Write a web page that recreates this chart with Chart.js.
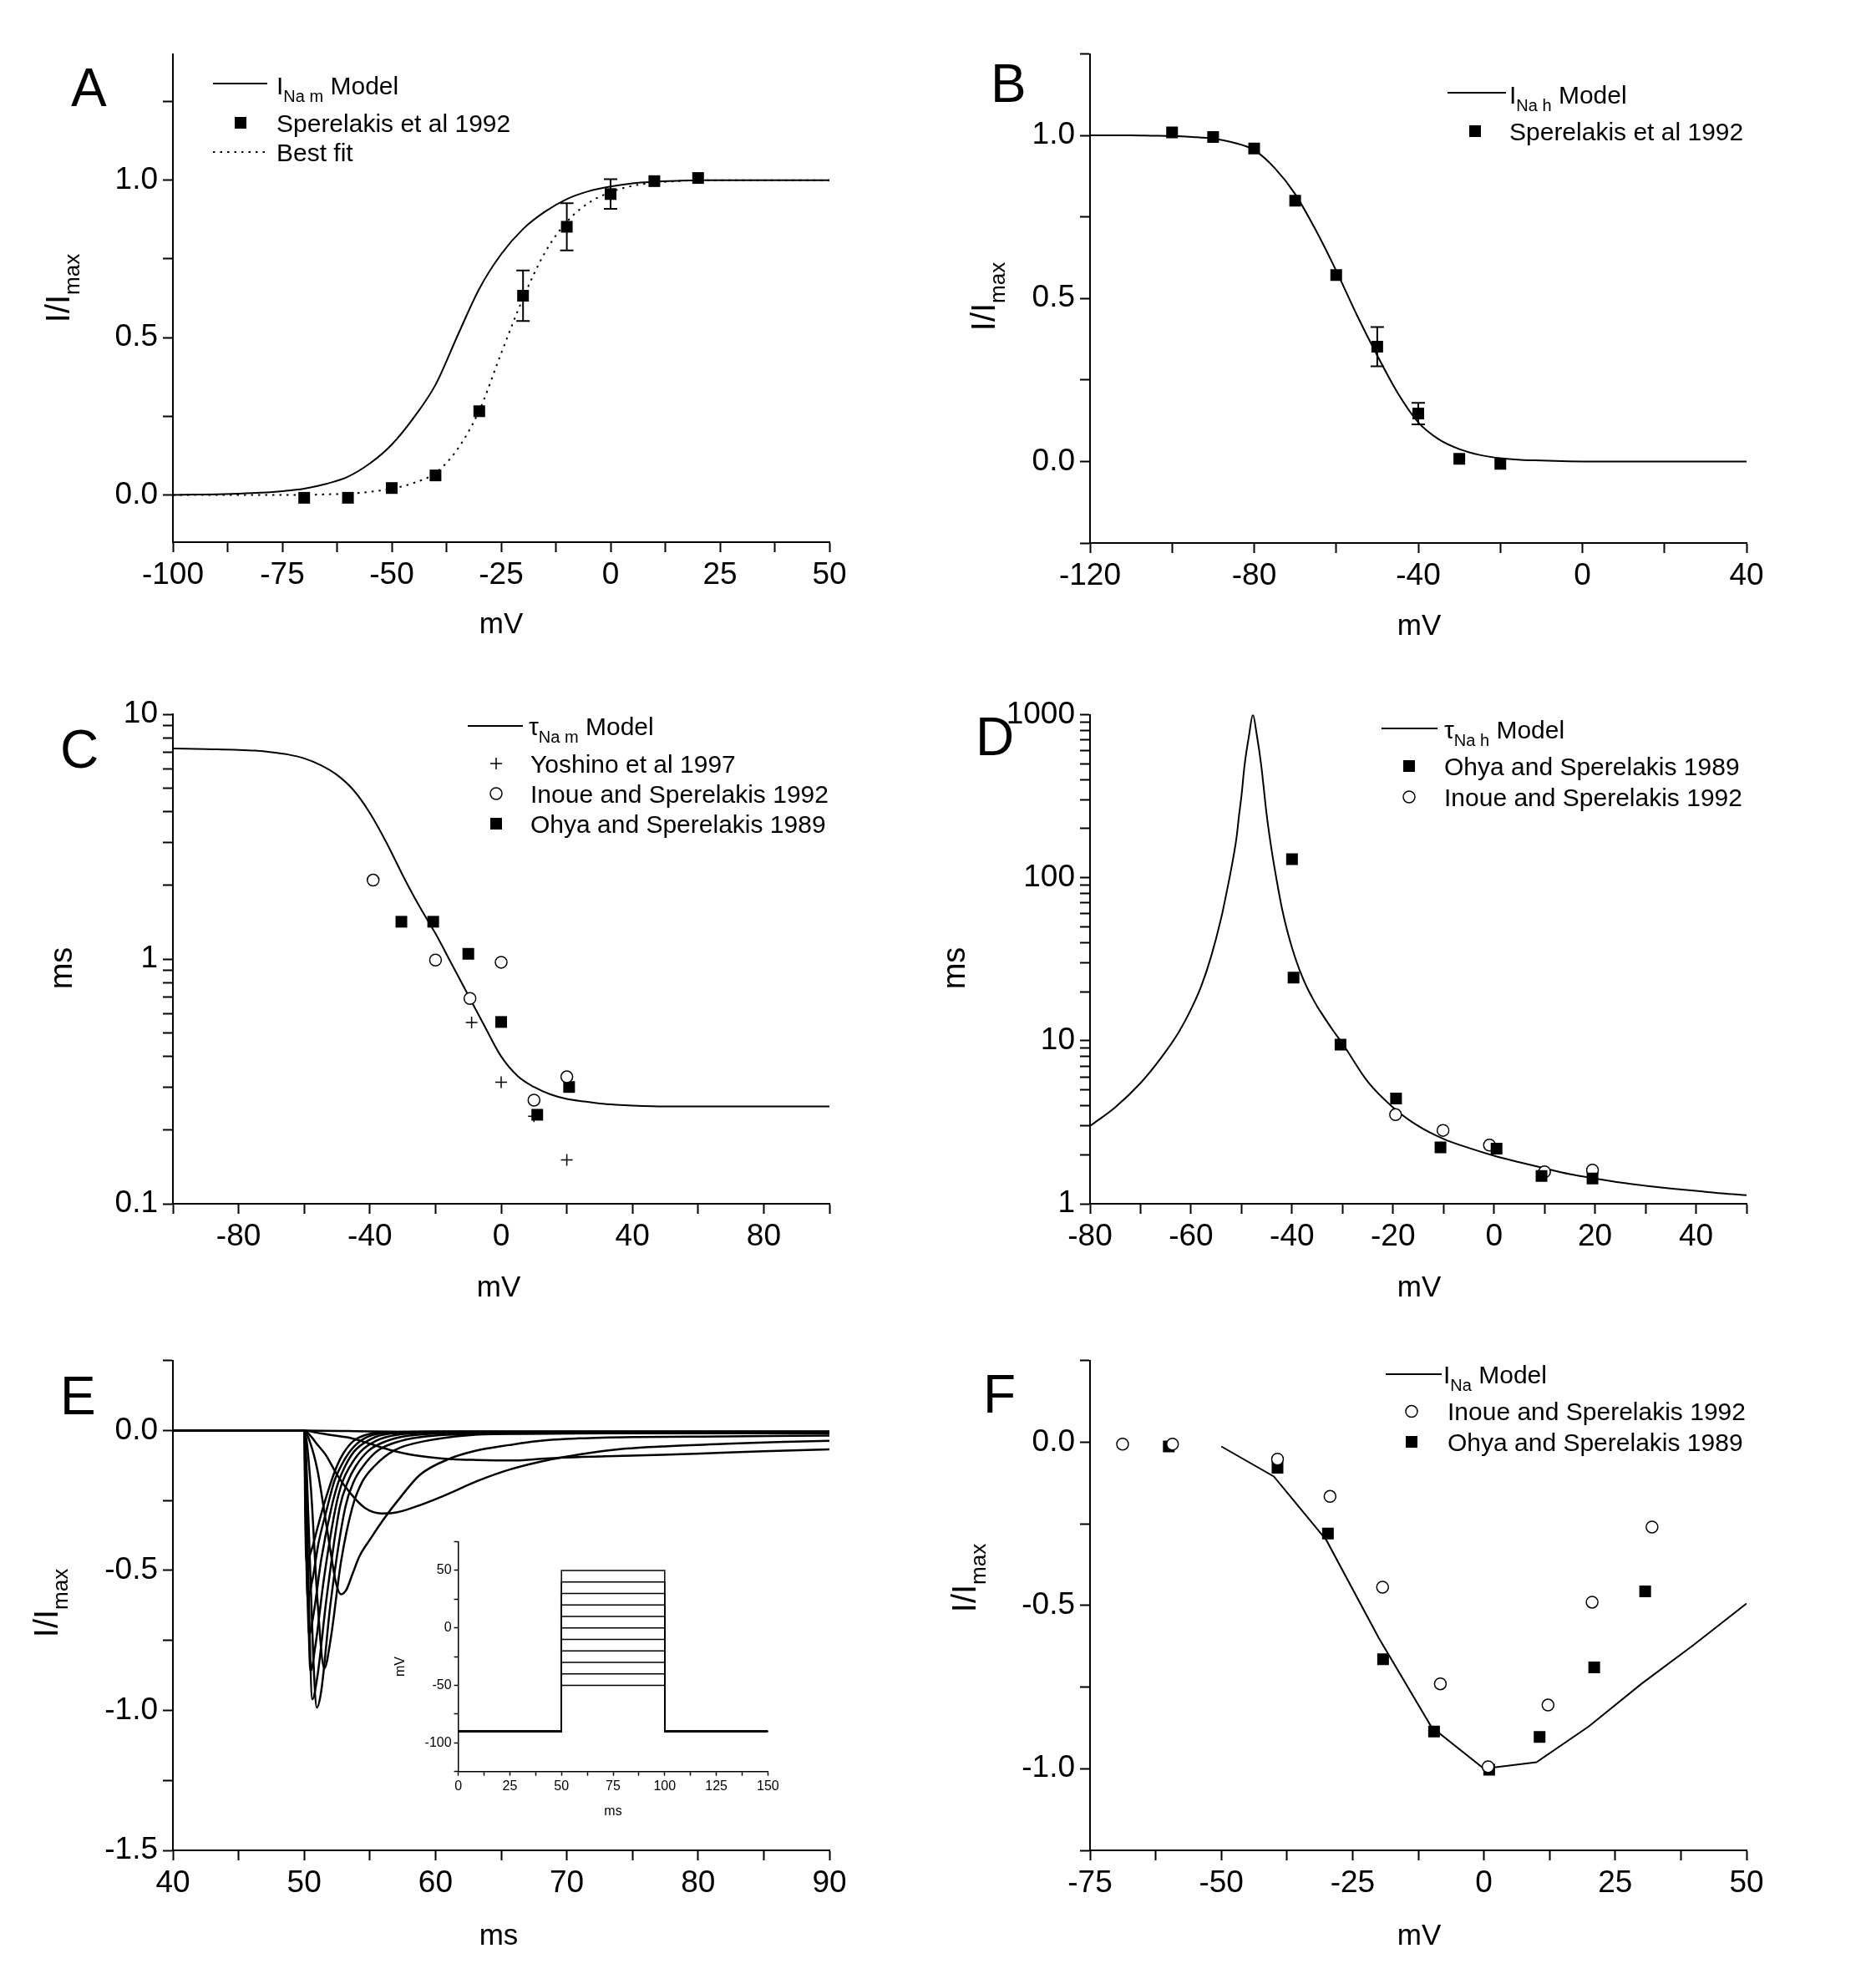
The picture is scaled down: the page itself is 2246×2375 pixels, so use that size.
<!DOCTYPE html>
<html><head><meta charset="utf-8">
<script src="https://cdn.jsdelivr.net/npm/chart.js@4.4.1/dist/chart.umd.min.js"></script>
<style>
html,body{margin:0;padding:0;background:#fff;}
#wrap{position:relative;width:2246px;height:2375px;background:#fff;overflow:hidden;}
canvas{position:absolute;}
</style></head><body><div id="wrap">
<canvas id="cA" width="1123" height="792" style="left:0px;top:0px;width:1123px;height:792px"></canvas>
<canvas id="cB" width="1123" height="792" style="left:1123px;top:0px;width:1123px;height:792px"></canvas>
<canvas id="cC" width="1123" height="792" style="left:0px;top:792px;width:1123px;height:792px"></canvas>
<canvas id="cD" width="1123" height="792" style="left:1123px;top:792px;width:1123px;height:792px"></canvas>
<canvas id="cE" width="1123" height="791" style="left:0px;top:1584px;width:1123px;height:791px"></canvas>
<canvas id="cF" width="1123" height="791" style="left:1123px;top:1584px;width:1123px;height:791px"></canvas>
<canvas id="cI" width="520" height="380" style="left:440px;top:1820px;width:520px;height:380px"></canvas>
</div>
<script>
// ---------------- DATA ----------------
// Panel A : I_Na m activation
const aModelV = [-100,-95,-90,-85,-80,-75,-70,-65,-60,-55,-50,-45,-40,-35,-30,-25,-20,-15,-10,-5,0,5,10,15,20,25,30,35,40,45,50];
const aModelI = [0.000,0.001,0.002,0.004,0.007,0.012,0.020,0.035,0.058,0.100,0.160,0.245,0.350,0.505,0.655,0.765,0.845,0.900,0.940,0.965,0.980,0.990,0.995,0.998,1.000,1,1,1,1,1,1];
const aFitV = [-100,-90,-80,-75,-70,-65,-60,-55,-50,-45,-40,-35,-30,-25,-20,-15,-10,-5,0,5,10,15,20,25,30,35,40,45,50];
const aFitI = [0,0,0,0,0,0.002,0.004,0.010,0.020,0.038,0.070,0.145,0.268,0.450,0.625,0.770,0.868,0.928,0.962,0.982,0.992,0.997,1.0,1,1,1,1,1,1];
const aDataV = [-70,-60,-50,-40,-30,-20,-10,0,10,20];
const aDataI = [-0.009,-0.009,0.022,0.062,0.266,0.633,0.852,0.956,0.997,1.007];
const aDataErr = [0,0,0,0,0,0.08,0.075,0.047,0,0];
const aXTicks = [-100,-87.5,-75,-62.5,-50,-37.5,-25,-12.5,0,12.5,25,37.5,50];
const aXLabels = [-100,-75,-50,-25,0,25,50];
const aYTicks = [0,0.25,0.5,0.75,1,1.25];
const aYLabels = [0,0.5,1];

// Panel B : I_Na h inactivation
const bModelV = [-120,-115,-110,-105,-100,-95,-90,-85,-80,-75,-70,-65,-60,-55,-50,-45,-40,-35,-30,-25,-20,-15,-10,-5,0,5,10,15,20,25,30,35,40];
const bModelI = [1.0,1.0,1.0,0.999,0.998,0.995,0.99,0.978,0.955,0.90,0.82,0.71,0.585,0.45,0.325,0.21,0.12,0.068,0.038,0.02,0.01,0.005,0.003,0.001,0,0,0,0,0,0,0,0,0];
const bDataV = [-100,-90,-80,-70,-60,-50,-40,-30,-20];
const bDataI = [1.009,0.995,0.96,0.80,0.572,0.352,0.147,0.008,-0.007];
const bDataErr = [0,0,0,0,0,0.06,0.033,0,0];
const bXTicks = [-120,-100,-80,-60,-40,-20,0,20,40];
const bXLabels = [-120,-80,-40,0,40];
const bYTicks = [-0.25,0,0.25,0.5,0.75,1,1.25];
const bYLabels = [0,0.5,1];

// Panel C : tau Na m
const cModelV = [-100,-90,-80,-75,-70,-65,-60,-55,-50,-45,-40,-35,-30,-25,-20,-15,-10,-5,0,5,10,15,20,25,30,35,40,50,60,70,80,90,100];
const cModelT = [7.25,7.2,7.15,7.1,7.0,6.85,6.6,6.2,5.65,4.9,3.95,3.0,2.2,1.65,1.27,0.95,0.71,0.53,0.40,0.333,0.30,0.28,0.268,0.262,0.257,0.254,0.252,0.25,0.25,0.25,0.25,0.25,0.25];
const cYoshinoV = [-9,0,10,20];
const cYoshinoT = [0.55,0.314,0.228,0.151];
const cInoueV = [-39,-20,-9.5,0,10,20];
const cInoueT = [2.10,0.99,0.69,0.97,0.265,0.33];
const cOhyaV = [-30.4,-20.7,-10,0,11,20.7];
const cOhyaT = [1.42,1.42,1.05,0.553,0.231,0.30];
const cXTicks = [-100,-80,-60,-40,-20,0,20,40,60,80,100];
const cXLabels = [-80,-40,0,40,80];
const cYTicks = [0.1,0.2,0.3,0.4,0.5,0.6,0.7,0.8,0.9,1,2,3,4,5,6,7,8,9,10];
const cYLabels = [0.1,1,10];

// Panel D : tau Na h
const dModelV = [-80,-75,-70,-66,-62.5,-60,-58,-56,-54,-53,-52,-51,-50.5,-50,-49.4,-48.5,-47.75,-47,-46.1,-45,-44,-43,-42,-41,-40,-39,-38,-37,-36,-35,-34,-32,-30,-25,-20,-15,-10,-5,0,5,10,15,20,25,30,35,40,45,50];
const dModelT = [3.0,3.91,5.5,7.8,11.2,15.6,21.5,33,57,80,115,175,240,320,489,750,1000,760,489,240,145,95,65,47.9,37.2,29.9,24.8,21.1,18.4,16.2,14.5,11.7,9.6,5.6,3.9,3.0,2.5,2.2,1.97,1.8,1.65,1.52,1.43,1.35,1.29,1.24,1.2,1.16,1.13];
const dOhyaV = [-40,-39.7,-30.4,-19.4,-10.6,0.5,9.4,19.5];
const dOhyaT = [130,24.4,9.46,4.42,2.22,2.18,1.48,1.43];
const dInoueV = [-19.5,-10.1,-0.9,10,19.5];
const dInoueT = [3.52,2.82,2.29,1.57,1.61];
const dXTicks = [-80,-70,-60,-50,-40,-30,-20,-10,0,10,20,30,40,50];
const dXLabels = [-80,-60,-40,-20,0,20,40];
const dYTicks = [1,2,3,4,5,6,7,8,9,10,20,30,40,50,60,70,80,90,100,200,300,400,500,600,700,800,900,1000];
const dYLabels = [1,10,100,1000];

// Panel E : current traces (step potential in mV)
const eT_p50 = [40,50,50.08,50.16,50.6,51,51.43,52,52.49,53,53.76,55,57,60,90];
const eI_p50 = [0,0,-0.3,-0.47,-0.42,-0.35,-0.276,-0.19,-0.127,-0.08,-0.037,-0.012,-0.005,-0.003,-0.003];
const eT_p40 = [40,50,50.12,50.26,50.6,51.1,51.75,52.3,52.8,53.4,54.29,55.5,58,62,90];
const eI_p40 = [0,0,-0.35,-0.60,-0.54,-0.40,-0.276,-0.18,-0.127,-0.08,-0.037,-0.013,-0.005,-0.004,-0.004];
const eT_p30 = [40,50,50.15,50.37,50.7,51.3,52.07,52.6,53.12,53.8,54.82,56,59,64,90];
const eI_p30 = [0,0,-0.35,-0.73,-0.66,-0.46,-0.276,-0.185,-0.127,-0.075,-0.037,-0.015,-0.006,-0.005,-0.005];
const eT_p20 = [40,50,50.2,50.48,50.85,51.5,52.39,52.9,53.5,54.3,55.46,57,60,66,90];
const eI_p20 = [0,0,-0.4,-0.86,-0.77,-0.53,-0.276,-0.185,-0.127,-0.075,-0.037,-0.016,-0.008,-0.006,-0.006];
const eT_p10 = [40,50,50.25,50.62,51.0,51.7,52.7,53.3,53.93,54.9,56.3,58,61,68,90];
const eI_p10 = [0,0,-0.4,-0.96,-0.88,-0.6,-0.276,-0.185,-0.127,-0.072,-0.037,-0.018,-0.01,-0.008,-0.008];
const eT_0 = [40,50,50.35,50.7,50.96,51.3,52.0,53.12,53.8,54.5,55.6,57.36,59.5,63,70,90];
const eI_0 = [0,0,-0.35,-0.82,-0.99,-0.93,-0.62,-0.276,-0.18,-0.127,-0.072,-0.037,-0.02,-0.012,-0.01,-0.01];
const eT_m10 = [40,50,50.5,51.0,51.53,52.0,52.8,53.66,54.4,55.35,56.9,59.27,62.45,66,75,90];
const eI_m10 = [0,0,-0.2,-0.6,-0.85,-0.75,-0.47,-0.276,-0.185,-0.127,-0.07,-0.037,-0.017,-0.012,-0.01,-0.009];
const eT_m20 = [40,50,50.5,51,51.5,52,52.4,52.8,53.2,53.7,54.2,55,56,57.2,58.85,61,63.1,65.6,67.7,71,75,82,90];
const eI_m20 = [0,0,-0.05,-0.14,-0.28,-0.43,-0.54,-0.585,-0.57,-0.51,-0.45,-0.39,-0.32,-0.246,-0.157,-0.102,-0.072,-0.052,-0.038,-0.028,-0.023,-0.021,-0.018];
const eT_m30 = [40,50,50.5,51,51.64,52.49,53.55,54.61,55.9,56.7,58.85,61,63.1,65.6,68.8,71,73.9,78,82.2,86,90];
const eI_m30 = [0,0,-0.02,-0.05,-0.087,-0.157,-0.226,-0.276,-0.296,-0.295,-0.266,-0.226,-0.182,-0.14,-0.103,-0.085,-0.067,-0.055,-0.047,-0.041,-0.037];
const eT_m40 = [40,50,51,52,53.55,55,56.73,58,59.9,61.2,63.1,65.8,67.5,69.45,73,77.3,81,85,90];
const eI_m40 = [0,0,-0.008,-0.016,-0.027,-0.047,-0.072,-0.085,-0.097,-0.102,-0.105,-0.107,-0.103,-0.097,-0.092,-0.087,-0.081,-0.074,-0.067];
const eT_m50 = [40,50,55,60,70,90];
const eI_m50 = [0,0,-0.003,-0.006,-0.008,-0.008];
const eXTicks = [40,45,50,55,60,65,70,75,80,85,90];
const eXLabels = [40,50,60,70,80,90];
const eYTicks = [-1.5,-1.25,-1,-0.75,-0.5,-0.25,0,0.25];
const eYLabels = [0,-0.5,-1,-1.5];

// Inset of E : voltage protocol
const insT = [0,50,50,100,100,150];
const insHold = -90;
const insLevels = [-50,-40,-30,-20,-10,0,10,20,30,40,50];
const insXTicks = [0,12.5,25,37.5,50,62.5,75,87.5,100,112.5,125,137.5,150];
const insXLabels = [0,25,50,75,100,125,150];
const insYTicks = [-125,-100,-75,-50,-25,0,25,50,75];
const insYLabels = [-100,-50,0,50];

// Panel F : I-V relation
const fModelV = [-50,-40,-30,-20,-10,0,10,20,30,40,50];
const fModelI = [-0.013,-0.105,-0.30,-0.60,-0.872,-1.0,-0.98,-0.87,-0.74,-0.62,-0.494];
const fInoueV = [-68.8,-59.3,-39.3,-29.3,-19.3,-8.3,0.8,12.2,20.6,32];
const fInoueI = [-0.006,-0.006,-0.052,-0.166,-0.444,-0.74,-0.994,-0.805,-0.49,-0.26];
const fOhyaV = [-60,-39.3,-29.7,-19.2,-9.5,1.0,10.6,21,30.7];
const fOhyaI = [-0.013,-0.078,-0.28,-0.665,-0.886,-1.003,-0.903,-0.69,-0.457];
const fXTicks = [-75,-62.5,-50,-37.5,-25,-12.5,0,12.5,25,37.5,50];
const fXLabels = [-75,-50,-25,0,25,50];
const fYTicks = [-1.25,-1,-0.75,-0.5,-0.25,0,0.25];
const fYLabels = [0,-0.5,-1];

// ---------------- HELPERS ----------------
const FONT = '"Liberation Sans", Arial, Helvetica, sans-serif';
Chart.defaults.font.family = FONT;
Chart.defaults.color = '#000';

function pts(xs, ys){ return xs.map((x,i)=>({x:x, y:ys[i]})); }
function lineDS(xs, ys, extra){
  return Object.assign({data:pts(xs,ys), showLine:true, borderColor:'#000', backgroundColor:'#000', borderWidth:2,
    pointRadius:0, pointHoverRadius:0, fill:false, cubicInterpolationMode:'monotone', order:2}, extra||{});
}
function markDS(xs, ys, kind){
  const base = {data:pts(xs,ys), showLine:false, order:0, pointHoverRadius:0};
  if(kind==='rect') return Object.assign(base,{pointStyle:'rect', pointRadius:9.9, backgroundColor:'#000', borderColor:'#000', borderWidth:0});
  if(kind==='circle') return Object.assign(base,{pointStyle:'circle', pointRadius:7, backgroundColor:'#fff', borderColor:'#000', borderWidth:1.5});
  return Object.assign(base,{pointStyle:'cross', pointRadius:7, borderColor:'#000', borderWidth:1.5});
}
function mkAxis(o){
  const lab = new Set(o.labels);
  return {
    type:o.type||'linear', position:o.pos, min:o.min, max:o.max,
    border:{display:true, color:'#000', width:o.bw||2},
    grid:{display:true, drawOnChartArea:false, drawTicks:true, tickLength:o.tl||12, tickWidth:o.bw||2, tickColor:'#000', color:'#000'},
    ticks:{autoSkip:false, maxRotation:0, minRotation:0, color:'#000', padding:o.pad||6,
      font:{family:FONT, size:o.fs||37}, callback:(v)=> lab.has(v) ? o.fmt(v) : ''},
    title:{display:false},
    afterBuildTicks:(s)=>{ s.ticks = o.ticks.map(v=>({value:v})); },
    afterFit:(s)=>{ if(o.pos==='bottom') s.height = o.size; else s.width = o.size; }
  };
}
const fmt1 = v => v.toFixed(1);
const fmtI = v => String(v);

function drawSegs(ctx, x, y, segs){
  let cx = x;
  for(const s of segs){
    ctx.font = s.s + 'px ' + FONT;
    ctx.fillText(s.t, cx, y + (s.dy||0));
    cx += ctx.measureText(s.t).width;
  }
}
function segsWidth(ctx, segs){
  let w = 0;
  for(const s of segs){ ctx.font = s.s + 'px ' + FONT; w += ctx.measureText(s.t).width; }
  return w;
}
function drawMarker(ctx, k, x, y){
  ctx.save();
  ctx.setLineDash([]);
  if(k==='rect'){ ctx.fillStyle='#000'; ctx.fillRect(x-7, y-7, 14, 14); }
  else if(k==='circle'){ ctx.beginPath(); ctx.arc(x,y,7,0,Math.PI*2); ctx.fillStyle='#fff'; ctx.fill(); ctx.lineWidth=1.5; ctx.strokeStyle='#000'; ctx.stroke(); }
  else if(k==='cross'){ ctx.beginPath(); ctx.moveTo(x-7,y); ctx.lineTo(x+7,y); ctx.moveTo(x,y-7); ctx.lineTo(x,y+7); ctx.lineWidth=1.5; ctx.strokeStyle='#000'; ctx.stroke(); }
  ctx.restore();
}

const decoPlugin = {
  id:'deco',
  beforeDatasetsDraw(chart, args, o){
    if(!o || !o.err) return;
    const ctx = chart.ctx, xs = chart.scales.x, ys = chart.scales.y;
    ctx.save(); ctx.strokeStyle='#000'; ctx.lineWidth=2;
    for(const e of o.err){
      e.xs.forEach((xv,i)=>{
        const er = e.es[i]; if(!er) return;
        const px = xs.getPixelForValue(xv);
        const y1 = ys.getPixelForValue(e.ys[i]+er), y2 = ys.getPixelForValue(e.ys[i]-er);
        ctx.beginPath();
        ctx.moveTo(px,y1); ctx.lineTo(px,y2);
        ctx.moveTo(px-8,y1); ctx.lineTo(px+8,y1);
        ctx.moveTo(px-8,y2); ctx.lineTo(px+8,y2);
        ctx.stroke();
      });
    }
    ctx.restore();
  },
  afterDraw(chart, args, o){
    if(!o) return;
    const ctx = chart.ctx;
    ctx.save();
    ctx.fillStyle = '#000'; ctx.textAlign='left'; ctx.textBaseline='alphabetic';
    if(o.letter){ ctx.font = (o.letter.s||64)+'px '+FONT; ctx.fillText(o.letter.t, o.letter.x, o.letter.y); }
    if(o.xTitle){
      const w = segsWidth(ctx, o.xTitle.segs);
      drawSegs(ctx, o.xTitle.x - w/2, o.xTitle.y, o.xTitle.segs);
    }
    if(o.yTitle){
      const w = segsWidth(ctx, o.yTitle.segs);
      ctx.save(); ctx.translate(o.yTitle.x, o.yTitle.y); ctx.rotate(-Math.PI/2);
      drawSegs(ctx, -w/2, 0, o.yTitle.segs);
      ctx.restore();
    }
    if(o.legend){
      for(const r of o.legend){
        if(r.k==='line' || r.k==='dot'){
          ctx.save(); ctx.strokeStyle='#000'; ctx.lineWidth=2;
          if(r.k==='dot') ctx.setLineDash([2.5,6]);
          ctx.beginPath(); ctx.moveTo(r.x0, r.y); ctx.lineTo(r.x1, r.y); ctx.stroke();
          ctx.restore();
        } else {
          drawMarker(ctx, r.k, r.mx, r.y);
        }
        ctx.fillStyle='#000';
        drawSegs(ctx, r.tx, r.ty, r.segs);
      }
    }
    ctx.restore();
  }
};

function mkChart(id, W, H, area, xo, yo, datasets, deco){
  xo.pos = 'bottom'; xo.size = H - area.bottom;
  yo.pos = 'left'; yo.size = area.left;
  return new Chart(document.getElementById(id), {
    type:'scatter',
    data:{datasets:datasets},
    options:{
      responsive:false, maintainAspectRatio:false, animation:false, devicePixelRatio:1, events:[],
      layout:{padding:{left:0, top:area.top, right:W-area.right, bottom:0}},
      plugins:{legend:{display:false}, tooltip:{enabled:false}, deco:deco},
      scales:{x:mkAxis(xo), y:mkAxis(yo)}
    },
    plugins:[decoPlugin]
  });
}

const S30 = 30, SUB = 20, TT = 35;
const yTitleI = [{t:'I/I', s:40},{t:'max', s:26, dy:12}];

// ---------------- PANEL A ----------------
mkChart('cA', 1123, 792, {left:207, right:993, top:65, bottom:649},
  {min:-100, max:50, ticks:aXTicks, labels:aXLabels, fmt:fmtI},
  {min:-0.15, max:1.4, ticks:aYTicks, labels:aYLabels, fmt:fmt1},
  [ markDS(aDataV, aDataI, 'rect'),
    lineDS(aModelV, aModelI),
    lineDS(aFitV, aFitI, {borderDash:[2.5,6]}) ],
  { letter:{t:'A', x:85, y:127},
    xTitle:{segs:[{t:'mV', s:TT}], x:600, y:758},
    yTitle:{segs:yTitleI, x:83, y:345},
    err:[{xs:aDataV, ys:aDataI, es:aDataErr}],
    legend:[
      {k:'line', x0:255, x1:320, y:100, tx:331, ty:113, segs:[{t:'I',s:S30},{t:'Na m',s:SUB,dy:9},{t:' Model',s:S30}]},
      {k:'rect', mx:288, y:147, tx:331, ty:158, segs:[{t:'Sperelakis et al 1992',s:S30}]},
      {k:'dot', x0:255, x1:320, y:182, tx:331, ty:193, segs:[{t:'Best fit',s:S30}]}
    ] });

// ---------------- PANEL B ----------------
mkChart('cB', 1123, 792, {left:182, right:968, top:64.5, bottom:650},
  {min:-120, max:40, ticks:bXTicks, labels:bXLabels, fmt:fmtI},
  {min:-0.25, max:1.25, ticks:bYTicks, labels:bYLabels, fmt:fmt1},
  [ markDS(bDataV, bDataI, 'rect'),
    lineDS(bModelV, bModelI) ],
  { letter:{t:'B', x:63, y:122},
    xTitle:{segs:[{t:'mV', s:TT}], x:576, y:760},
    yTitle:{segs:yTitleI, x:68, y:355},
    err:[{xs:bDataV, ys:bDataI, es:bDataErr}],
    legend:[
      {k:'line', x0:610, x1:680, y:111, tx:684, ty:124, segs:[{t:'I',s:S30},{t:'Na h',s:SUB,dy:9},{t:' Model',s:S30}]},
      {k:'rect', mx:643, y:157, tx:684, ty:168, segs:[{t:'Sperelakis et al 1992',s:S30}]}
    ] });

// ---------------- PANEL C ----------------
mkChart('cC', 1123, 792, {left:207, right:993, top:63, bottom:649},
  {min:-100, max:100, ticks:cXTicks, labels:cXLabels, fmt:fmtI},
  {type:'logarithmic', min:0.1, max:10, ticks:cYTicks, labels:cYLabels, fmt:fmtI},
  [ markDS(cYoshinoV, cYoshinoT, 'cross'),
    markDS(cInoueV, cInoueT, 'circle'),
    markDS(cOhyaV, cOhyaT, 'rect'),
    lineDS(cModelV, cModelT) ],
  { letter:{t:'C', x:72, y:127},
    xTitle:{segs:[{t:'mV', s:TT}], x:597, y:760},
    yTitle:{segs:[{t:'ms', s:38}], x:86, y:367},
    legend:[
      {k:'line', x0:560, x1:626, y:77, tx:633, ty:88, segs:[{t:'\u03C4',s:S30},{t:'Na m',s:SUB,dy:9},{t:' Model',s:S30}]},
      {k:'cross', mx:594, y:122, tx:635, ty:133, segs:[{t:'Yoshino et al 1997',s:S30}]},
      {k:'circle', mx:594, y:158, tx:635, ty:169, segs:[{t:'Inoue and Sperelakis 1992',s:S30}]},
      {k:'rect', mx:594, y:194, tx:635, ty:205, segs:[{t:'Ohya and Sperelakis 1989',s:S30}]}
    ] });

// ---------------- PANEL D ----------------
mkChart('cD', 1123, 792, {left:182, right:968, top:63.5, bottom:649},
  {min:-80, max:50, ticks:dXTicks, labels:dXLabels, fmt:fmtI},
  {type:'logarithmic', min:1, max:1000, ticks:dYTicks, labels:dYLabels, fmt:fmtI},
  [ markDS(dOhyaV, dOhyaT, 'rect'),
    markDS(dInoueV, dInoueT, 'circle'),
    lineDS(dModelV, dModelT) ],
  { letter:{t:'D', x:45, y:112},
    xTitle:{segs:[{t:'mV', s:TT}], x:576, y:760},
    yTitle:{segs:[{t:'ms', s:38}], x:32, y:367},
    legend:[
      {k:'line', x0:531, x1:598, y:80, tx:606, ty:92, segs:[{t:'\u03C4',s:S30},{t:'Na h',s:SUB,dy:9},{t:' Model',s:S30}]},
      {k:'rect', mx:564, y:125, tx:606, ty:136, segs:[{t:'Ohya and Sperelakis 1989',s:S30}]},
      {k:'circle', mx:564, y:162, tx:606, ty:173, segs:[{t:'Inoue and Sperelakis 1992',s:S30}]}
    ] });

// ---------------- PANEL E ----------------
const eOpt = {borderWidth:2.5};
mkChart('cE', 1123, 791, {left:207, right:993, top:44.7, bottom:631},
  {min:40, max:90, ticks:eXTicks, labels:eXLabels, fmt:fmtI},
  {min:-1.5, max:0.25, ticks:eYTicks, labels:eYLabels, fmt:fmt1},
  [ lineDS(eT_p50, eI_p50, eOpt), lineDS(eT_p40, eI_p40, eOpt), lineDS(eT_p30, eI_p30, eOpt),
    lineDS(eT_p20, eI_p20, eOpt), lineDS(eT_p10, eI_p10, eOpt), lineDS(eT_0, eI_0, eOpt),
    lineDS(eT_m10, eI_m10, eOpt), lineDS(eT_m20, eI_m20, eOpt), lineDS(eT_m30, eI_m30, eOpt),
    lineDS(eT_m40, eI_m40, eOpt), lineDS(eT_m50, eI_m50, eOpt) ],
  { letter:{t:'E', x:72, y:109},
    xTitle:{segs:[{t:'ms', s:TT}], x:597, y:744},
    yTitle:{segs:yTitleI, x:69, y:335} });

// ---------------- INSET ----------------
mkChart('cI', 520, 380, {left:108.6, right:479.4, top:25.5, bottom:300.6},
  {min:0, max:150, ticks:insXTicks, labels:insXLabels, fmt:fmtI, fs:16, tl:5, bw:1.5, pad:3},
  {min:-125, max:75, ticks:insYTicks, labels:insYLabels, fmt:fmtI, fs:16, tl:5, bw:1.5, pad:3},
  insLevels.map(v => lineDS(insT, [insHold, insHold, v, v, insHold, insHold], {borderWidth:1.5, cubicInterpolationMode:'default', tension:0})),
  { xTitle:{segs:[{t:'ms', s:16}], x:294, y:353},
    yTitle:{segs:[{t:'mV', s:16}], x:44, y:175} });

// ---------------- PANEL F ----------------
mkChart('cF', 1123, 791, {left:182, right:968, top:44.7, bottom:631},
  {min:-75, max:50, ticks:fXTicks, labels:fXLabels, fmt:fmtI},
  {min:-1.25, max:0.25, ticks:fYTicks, labels:fYLabels, fmt:fmt1},
  [ markDS(fInoueV, fInoueI, 'circle'),
    markDS(fOhyaV, fOhyaI, 'rect'),
    lineDS(fModelV, fModelI, {cubicInterpolationMode:'default', tension:0}) ],
  { letter:{t:'F', x:54, y:107},
    xTitle:{segs:[{t:'mV', s:TT}], x:576, y:744},
    yTitle:{segs:yTitleI, x:45, y:305},
    legend:[
      {k:'line', x0:536, x1:603, y:61, tx:605, ty:72, segs:[{t:'I',s:S30},{t:'Na',s:SUB,dy:9},{t:' Model',s:S30}]},
      {k:'circle', mx:567, y:105.6, tx:610, ty:116, segs:[{t:'Inoue and Sperelakis 1992',s:S30}]},
      {k:'rect', mx:567, y:142, tx:610, ty:153, segs:[{t:'Ohya and Sperelakis 1989',s:S30}]}
    ] });
</script></body></html>
